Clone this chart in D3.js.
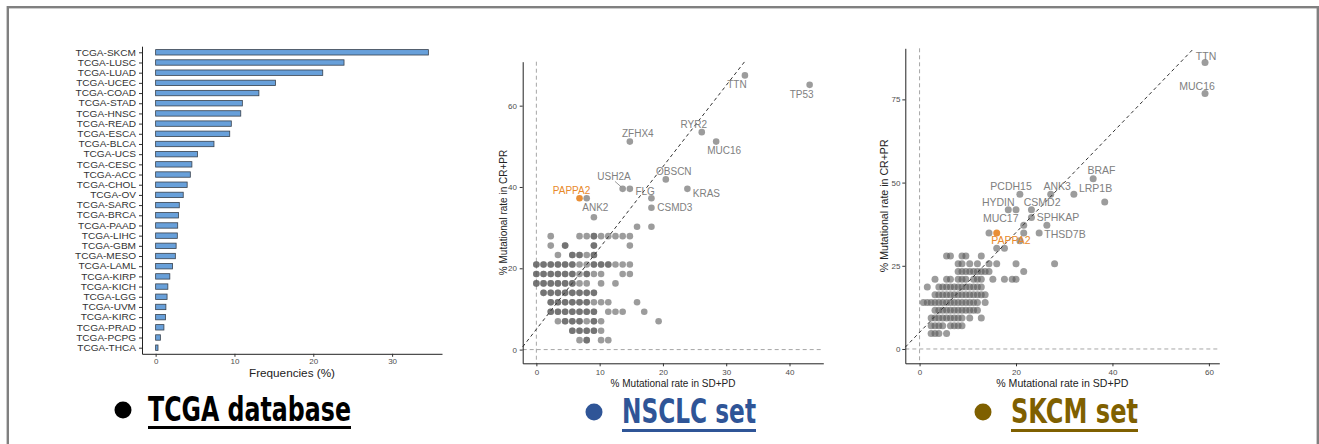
<!DOCTYPE html>
<html>
<head>
<meta charset="utf-8">
<script src="https://cdn.jsdelivr.net/npm/d3@7"></script>
<style>
body { margin: 0; background: #fff; }
svg { font-family: "Liberation Sans", Arial, Helvetica, sans-serif; }
</style>
</head>
<body>
<svg id="fig" width="1319" height="444"></svg>
<script>

var width = 1319;
var height = 444;

// ---- TCGA panel: % of samples with PAPPA2 mutation per project ----
var tcgaProjects = ["TCGA-SKCM", "TCGA-LUSC", "TCGA-LUAD", "TCGA-UCEC", "TCGA-COAD", "TCGA-STAD",
    "TCGA-HNSC", "TCGA-READ", "TCGA-ESCA", "TCGA-BLCA", "TCGA-UCS", "TCGA-CESC", "TCGA-ACC",
    "TCGA-CHOL", "TCGA-OV", "TCGA-SARC", "TCGA-BRCA", "TCGA-PAAD", "TCGA-LIHC", "TCGA-GBM",
    "TCGA-MESO", "TCGA-LAML", "TCGA-KIRP", "TCGA-KICH", "TCGA-LGG", "TCGA-UVM", "TCGA-KIRC",
    "TCGA-PRAD", "TCGA-PCPG", "TCGA-THCA"];
var tcgaFreq = [34.6, 23.9, 21.2, 15.2, 13.1, 11.0, 10.8, 9.6, 9.4, 7.4, 5.3, 4.6, 4.4,
    4.0, 3.5, 3.0, 2.9, 2.8, 2.75, 2.6, 2.5, 2.15, 1.8, 1.55, 1.45, 1.3, 1.25,
    1.05, 0.6, 0.3];
var freqTicks = [0, 10, 20, 30];

// ---- NSCLC set: mutated patient counts (CR+PR n=43, SD+PD n=88) ----
var nsclcRespN = 43;
var nsclcNonRespN = 88;
var nsclcGenes = ["TTN", "TP53", "RYR2", "MUC16", "ZFHX4", "OBSCN", "USH2A", "FLG", "KRAS", "PAPPA2", "ANK2", "CSMD3"];
var nsclcGeneResp = [29, 28, 23, 22, 22, 18, 17, 16, 17, 16, 16, 15];
var nsclcGeneNonResp = [29, 38, 23, 25, 13, 18, 12, 16, 21, 6, 7, 16];
// other genes: [CR+PR count, SD+PD counts]; a repeated count = genes on the same spot
var nsclcOther = [
    [17, [13]],
    [14, [8]],
    [13, [14, 16]],
    [12, [2, 6, 7, 8, 8, 9, 10, 11, 12, 13]],
    [11, [2, 4, 4, 8, 8, 13]],
    [10, [3, 5, 5, 6, 6, 7, 8, 8]],
    [9, [0, 0, 1, 1, 2, 2, 3, 3, 4, 4, 5, 5, 6, 7, 8, 8, 9, 9, 10, 10, 11, 12, 13]],
    [8, [0, 0, 1, 1, 2, 2, 3, 3, 4, 4, 5, 5, 6, 7, 7, 8, 9, 12, 13]],
    [7, [0, 0, 1, 1, 2, 2, 3, 3, 4, 4, 5, 5, 6, 7, 9, 11]],
    [6, [1, 1, 2, 2, 3, 3, 4, 4, 5, 5, 6, 6, 7, 7, 8, 8]],
    [5, [2, 2, 3, 3, 4, 4, 5, 5, 6, 6, 7, 7, 8, 9, 10, 14]],
    [4, [2, 2, 3, 3, 4, 4, 5, 5, 6, 6, 7, 7, 8, 8, 10, 11, 12, 15]],
    [3, [3, 4, 4, 5, 5, 6, 6, 7, 8, 8, 9, 17]],
    [2, [5, 5, 6, 6, 7, 7, 8, 8, 9]],
    [1, [6, 7, 7, 9, 10]]
];
var nsclcXTicks = [0, 10, 20, 30, 40];
var nsclcYTicks = [0, 20, 40, 60];

// ---- SKCM set: mutated patient counts (CR+PR n=43, SD+PD n=125) ----
var skcmRespN = 43;
var skcmNonRespN = 125;
var skcmGenes = ["TTN", "MUC16", "BRAF", "LRP1B", "ANK3", "PCDH15", "HYDIN", "CSMD2", "MUC17", "SPHKAP", "THSD7B", "PAPPA2"];
var skcmGeneResp = [37, 33, 22, 20, 20, 20, 18, 18, 16, 17, 15, 15];
var skcmGeneNonResp = [74, 74, 45, 40, 34, 26, 23, 29, 27, 29, 31, 20];
var skcmOther = [
    [19, [48]],
    [18, [25]],
    [16, [33]],
    [15, [18, 27]],
    [14, [26]],
    [13, [20, 22]],
    [12, [7, 8, 11, 12, 16]],
    [11, [10, 11, 13, 15, 18, 20, 25, 35]],
    [10, [10, 11, 12, 13, 14, 15, 16, 17, 18, 27]],
    [9, [4, 7, 8, 10, 11, 12, 14, 15, 16, 19, 22, 24, 25]],
    [8, [2, 5, 6, 7, 8, 9, 10, 11, 12, 13, 14, 15, 16]],
    [7, [4, 5, 6, 7, 8, 9, 10, 11, 12, 13, 14, 15, 16, 17]],
    [6, [1, 2, 3, 4, 5, 6, 7, 8, 9, 10, 11, 12, 13, 14, 15, 17]],
    [5, [4, 5, 6, 7, 8, 9, 10, 11, 12, 13, 14, 15]],
    [4, [3, 4, 5, 6, 7, 8, 9, 10, 11, 13, 16]],
    [3, [3, 4, 5, 6, 8, 9, 10, 11]],
    [2, [3, 4, 5, 7]]
];
var skcmXTicks = [0, 20, 40, 60];
var skcmYTicks = [0, 25, 50, 75];

// label placement (pixel offset of label centre from its point)
var nsclcLabelPos = {
    TTN: [-8, 9], TP53: [-8, 9.5], RYR2: [-8, -7.5], MUC16: [8, 9], ZFHX4: [8, -7.7],
    OBSCN: [8, -7.6], USH2A: [-8.7, -12], FLG: [-6.3, -6.7], KRAS: [19, 4.6],
    PAPPA2: [-8, -8], ANK2: [8.6, 8.7], CSMD3: [23.4, 0]
};
var skcmLabelPos = {
    TTN: [1, -6.7], MUC16: [-8, -7.3], BRAF: [8.3, -8], LRP1B: [21.7, -6.3], ANK3: [6.5, -8],
    PCDH15: [-8.8, -8], HYDIN: [-10, -7.7], CSMD2: [10.7, -7.3], MUC17: [-23, -7],
    SPHKAP: [26.5, 0], THSD7B: [25.8, 1], PAPPA2: [14.2, 7.7]
};

var axisGrey = "#4d4d4d";
var dotGrey = "#5a5a5a";
var labelGrey = "#808080";
var highlight = "#e8892b";

var svg = d3.select("#fig");

// outer frame
svg.append("rect")
    .attr("x", 7.8).attr("y", 7.2)
    .attr("width", 1310).attr("height", 460)
    .attr("fill", "none")
    .attr("stroke", "#808080")
    .attr("stroke-width", 2.4);

// ================= TCGA bar chart =================
(function() {
    var left = 142, right = 442, top = 46.2, bottom = 353.8;
    var maxF = d3.max(tcgaFreq);

    var x = d3.scaleLinear()
        .domain([-0.05 * maxF, maxF * 1.05])
        .range([left, right]);

    var y = d3.scalePoint()
        .domain(tcgaProjects)
        .range([top, bottom])
        .padding(0.6);

    var g = svg.append("g");

    g.selectAll(".bar")
        .data(tcgaProjects)
        .enter().append("rect")
        .attr("class", "bar")
        .attr("x", x(0))
        .attr("y", function(d) { return y(d) - 2.7; })
        .attr("width", function(d, i) { return x(tcgaFreq[i]) - x(0); })
        .attr("height", 5.4)
        .attr("fill", "#68a0da")
        .attr("stroke", "#37414d")
        .attr("stroke-width", 0.8);

    var yAxis = g.append("g")
        .attr("transform", "translate(" + left + ",0)")
        .call(d3.axisLeft(y).tickSize(3).tickPadding(2).tickSizeOuter(0));
    yAxis.selectAll(".tick text")
        .attr("transform", "scale(1.2,1)")
        .attr("font-size", 8.4)
        .attr("fill", "#333");

    var xAxis = g.append("g")
        .attr("transform", "translate(0," + bottom + ")")
        .call(d3.axisBottom(x).tickValues(freqTicks).tickSize(3).tickPadding(2).tickSizeOuter(0));
    xAxis.selectAll(".tick text")
        .attr("font-size", 8)
        .attr("fill", axisGrey);

    [yAxis, xAxis].forEach(function(a) {
        a.select(".domain").attr("stroke", "#222").attr("stroke-width", 1);
        a.selectAll(".tick line").attr("stroke", "#333");
    });

    g.append("text")
        .attr("transform", "translate(" + ((left + right) / 2) + ",377) scale(1.15,1)")
        .attr("text-anchor", "middle")
        .attr("font-size", 10.2)
        .attr("fill", "#222")
        .text("Frequencies (%)");
})();

// ================= scatter panels =================
function drawScatter(cfg) {
    var pts = [];
    cfg.other.forEach(function(row) {
        row[1].forEach(function(c) {
            pts.push({ x: c / cfg.nonRespN * 100, y: row[0] / cfg.respN * 100 });
        });
    });
    var genes = cfg.genes.map(function(name, i) {
        return {
            name: name,
            x: cfg.nonResp[i] / cfg.nonRespN * 100,
            y: cfg.resp[i] / cfg.respN * 100
        };
    });
    var all = pts.concat(genes);
    var xMax = d3.max(all, function(d) { return d.x; });
    var yMax = d3.max(all, function(d) { return d.y; });

    // ggplot default 5% expansion
    var x = d3.scaleLinear()
        .domain([-0.05 * xMax, xMax * 1.05])
        .range([cfg.left, cfg.right]);
    var y = d3.scaleLinear()
        .domain([-0.05 * yMax, yMax * 1.05])
        .range([cfg.bottom, cfg.top]);

    var g = svg.append("g");

    // reference lines at 0
    g.append("line")
        .attr("x1", x(0)).attr("x2", x(0))
        .attr("y1", cfg.top).attr("y2", cfg.bottom)
        .attr("stroke", "#a6a6a6").attr("stroke-width", 1)
        .attr("stroke-dasharray", "4,3");
    g.append("line")
        .attr("x1", cfg.left).attr("x2", cfg.right)
        .attr("y1", y(0)).attr("y2", y(0))
        .attr("stroke", "#a6a6a6").attr("stroke-width", 1)
        .attr("stroke-dasharray", "4,3");

    // points
    g.selectAll(".pt")
        .data(pts)
        .enter().append("circle")
        .attr("class", "pt")
        .attr("cx", function(d) { return x(d.x); })
        .attr("cy", function(d) { return y(d.y); })
        .attr("r", cfg.r)
        .attr("fill", dotGrey)
        .attr("fill-opacity", 0.6);

    g.selectAll(".gene")
        .data(genes)
        .enter().append("circle")
        .attr("class", "gene")
        .attr("cx", function(d) { return x(d.x); })
        .attr("cy", function(d) { return y(d.y); })
        .attr("r", cfg.r)
        .attr("fill", function(d) { return d.name === "PAPPA2" ? highlight : dotGrey; })
        .attr("fill-opacity", function(d) { return d.name === "PAPPA2" ? 0.95 : 0.6; });

    // fitted diagonal, clipped to the panel
    var xd = x.domain(), yd = y.domain();
    var xa = xd[0];
    var xb = Math.min(xd[1], (yd[1] - cfg.intercept) / cfg.slope);
    g.append("line")
        .attr("x1", x(xa)).attr("y1", y(cfg.slope * xa + cfg.intercept))
        .attr("x2", x(xb)).attr("y2", y(cfg.slope * xb + cfg.intercept))
        .attr("stroke", "#333").attr("stroke-width", 1)
        .attr("stroke-dasharray", "3.5,3");

    // segments from label to point
    genes.filter(function(d) { return cfg.segments.indexOf(d.name) !== -1; })
        .forEach(function(d) {
            var o = cfg.labelPos[d.name];
            g.append("line")
                .attr("x1", x(d.x) + o[0] + 1).attr("y1", y(d.y) + o[1] + 4.5)
                .attr("x2", x(d.x) - 1.5).attr("y2", y(d.y) - 2)
                .attr("stroke", labelGrey).attr("stroke-width", 0.8);
        });

    // gene labels
    g.selectAll(".glabel")
        .data(genes)
        .enter().append("text")
        .attr("class", "glabel")
        .attr("x", function(d) { return x(d.x) + cfg.labelPos[d.name][0]; })
        .attr("y", function(d) { return y(d.y) + cfg.labelPos[d.name][1]; })
        .attr("dy", "0.36em")
        .attr("text-anchor", "middle")
        .attr("font-size", cfg.labelSize)
        .attr("fill", function(d) { return d.name === "PAPPA2" ? highlight : labelGrey; })
        .text(function(d) { return d.name; });

    // axes
    var yAxis = g.append("g")
        .attr("transform", "translate(" + cfg.left + ",0)")
        .call(d3.axisLeft(y).tickValues(cfg.yTicks).tickSize(3).tickPadding(cfg.yPad).tickSizeOuter(0));
    var xAxis = g.append("g")
        .attr("transform", "translate(0," + cfg.bottom + ")")
        .call(d3.axisBottom(x).tickValues(cfg.xTicks).tickSize(3).tickPadding(3.5).tickSizeOuter(0));
    [yAxis, xAxis].forEach(function(a) {
        a.select(".domain").attr("stroke", "#222").attr("stroke-width", 1);
        a.selectAll(".tick line").attr("stroke", "#333");
        a.selectAll(".tick text").attr("font-size", 8).attr("fill", axisGrey);
    });

    g.append("text")
        .attr("x", (cfg.left + cfg.right) / 2)
        .attr("y", 387)
        .attr("text-anchor", "middle")
        .attr("font-size", cfg.titleSize)
        .attr("fill", "#222")
        .text("% Mutational rate in SD+PD");

    g.append("text")
        .attr("transform", "translate(" + cfg.yTitleX + "," + ((cfg.top + cfg.bottom) / 2) + ") rotate(-90)")
        .attr("text-anchor", "middle")
        .attr("dy", "0.36em")
        .attr("font-size", cfg.titleSize)
        .attr("fill", "#222")
        .text("% Mutational rate in CR+PR");
}

drawScatter({
    genes: nsclcGenes, resp: nsclcGeneResp, nonResp: nsclcGeneNonResp, other: nsclcOther,
    respN: nsclcRespN, nonRespN: nsclcNonRespN,
    left: 522.7, right: 823.3, top: 61.7, bottom: 363.3,
    xTicks: nsclcXTicks, yTicks: nsclcYTicks, yPad: 2.7,
    slope: 2, intercept: 5, r: 3.3,
    labelPos: nsclcLabelPos, segments: ["USH2A"],
    labelSize: 10, titleSize: 10, yTitleX: 503
});

drawScatter({
    genes: skcmGenes, resp: skcmGeneResp, nonResp: skcmGeneNonResp, other: skcmOther,
    respN: skcmRespN, nonRespN: skcmNonRespN,
    left: 905.3, right: 1219.3, top: 48.3, bottom: 363.3,
    xTicks: skcmXTicks, yTicks: skcmYTicks, yPad: 1.8,
    slope: 1.5, intercept: 5, r: 3.5,
    labelPos: skcmLabelPos, segments: [],
    labelSize: 10.5, titleSize: 10.6, yTitleX: 884
});

// ================= panel captions =================
var captions = [
    { text: "TCGA database", color: "#000000", dotX: 123, x: 148, w: 203, base: 421, line: 426 },
    { text: "NSCLC set", color: "#2f5597", dotX: 594, x: 622, w: 134, base: 423, line: 429 },
    { text: "SKCM set", color: "#7f6000", dotX: 983, x: 1011, w: 127, base: 423, line: 429 }
];

var cap = svg.append("g").selectAll(".caption")
    .data(captions)
    .enter().append("g")
    .attr("class", "caption");

cap.append("circle")
    .attr("cx", function(d) { return d.dotX; })
    .attr("cy", function(d) { return d.base - 11; })
    .attr("r", 8.5)
    .attr("fill", function(d) { return d.color; });

cap.append("text")
    .attr("x", function(d) { return d.x; })
    .attr("y", function(d) { return d.base; })
    .attr("textLength", function(d) { return d.w; })
    .attr("lengthAdjust", "spacingAndGlyphs")
    .attr("font-family", "'Liberation Sans Narrow', 'DejaVu Sans Condensed', 'Liberation Sans', sans-serif")
    .attr("font-weight", "bold")
    .attr("font-size", 33)
    .attr("fill", function(d) { return d.color; })
    .text(function(d) { return d.text; });

cap.append("rect")
    .attr("x", function(d) { return d.x; })
    .attr("y", function(d) { return d.line; })
    .attr("width", function(d) { return d.w; })
    .attr("height", 3)
    .attr("fill", function(d) { return d.color; });

</script>
</body>
</html>
